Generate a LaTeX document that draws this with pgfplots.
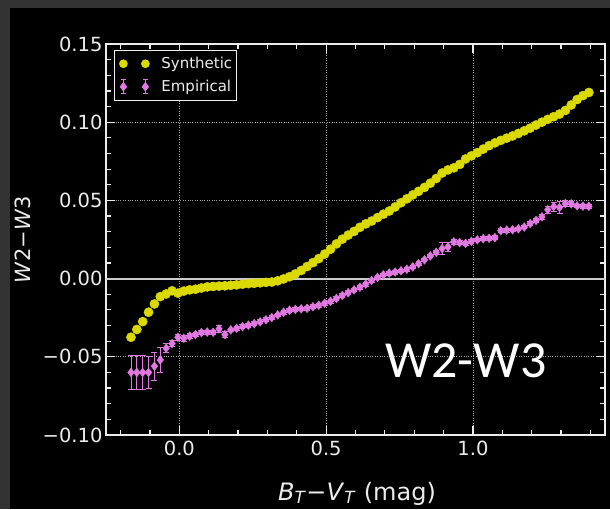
\documentclass[border=0pt]{standalone}
\usepackage{pgfplots}
\pgfplotsset{compat=1.18}
\usepackage{pgfplotstable}
\usepackage{fontspec}
\setmainfont{DejaVu Sans}
\newfontfamily\carlito{Carlito}
\definecolor{synth}{RGB}{218,218,0}
\definecolor{emp}{RGB}{226,120,226}
\definecolor{fg}{RGB}{236,236,236}

\pgfplotstableread{
x y
-0.165 -0.0375
-0.145 -0.0325
-0.125 -0.0275
-0.105 -0.0215
-0.085 -0.0162
-0.065 -0.0115
-0.045 -0.0098
-0.025 -0.0078
-0.005 -0.0093
0.015 -0.0080
0.035 -0.0072
0.055 -0.0068
0.075 -0.0060
0.095 -0.0053
0.115 -0.0050
0.135 -0.0048
0.155 -0.0046
0.175 -0.0043
0.195 -0.0040
0.215 -0.0036
0.235 -0.0032
0.255 -0.0030
0.275 -0.0027
0.295 -0.0024
0.315 -0.0022
0.335 -0.0014
0.355 -0.0002
0.375 0.0012
0.395 0.0030
0.415 0.0052
0.435 0.0077
0.455 0.0102
0.475 0.0128
0.495 0.0157
0.515 0.0188
0.535 0.0222
0.555 0.0252
0.575 0.0278
0.595 0.0302
0.615 0.0328
0.635 0.0350
0.655 0.0368
0.675 0.0390
0.695 0.0412
0.715 0.0432
0.735 0.0458
0.755 0.0485
0.775 0.0510
0.795 0.0535
0.815 0.0558
0.835 0.0583
0.855 0.0610
0.875 0.0640
0.895 0.0675
0.915 0.0695
0.935 0.0708
0.955 0.0730
0.975 0.0765
0.995 0.0785
1.015 0.0805
1.035 0.0828
1.055 0.0850
1.075 0.0868
1.095 0.0884
1.115 0.0898
1.135 0.0912
1.155 0.0928
1.175 0.0945
1.195 0.0962
1.215 0.0982
1.235 0.1000
1.255 0.1018
1.275 0.1035
1.295 0.1052
1.315 0.1075
1.335 0.1110
1.355 0.1145
1.375 0.1170
1.395 0.1190
}\synthetic

\pgfplotstableread{
x y e
-0.165 -0.0600 0.0110
-0.145 -0.0600 0.0110
-0.125 -0.0600 0.0110
-0.105 -0.0600 0.0100
-0.085 -0.0560 0.0090
-0.065 -0.0520 0.0080
-0.045 -0.0445 0.0030
-0.025 -0.0415 0.0020
-0.005 -0.0375 0.0020
0.015 -0.0382 0.0020
0.035 -0.0368 0.0015
0.055 -0.0358 0.0012
0.075 -0.0345 0.0012
0.095 -0.0342 0.0012
0.115 -0.0343 0.0012
0.135 -0.0322 0.0020
0.155 -0.0358 0.0020
0.175 -0.0328 0.0012
0.195 -0.0318 0.0012
0.215 -0.0307 0.0012
0.235 -0.0298 0.0012
0.255 -0.0288 0.0012
0.275 -0.0276 0.0012
0.295 -0.0263 0.0012
0.315 -0.0249 0.0012
0.335 -0.0232 0.0012
0.355 -0.0215 0.0012
0.375 -0.0202 0.0012
0.395 -0.0197 0.0012
0.415 -0.0193 0.0012
0.435 -0.0190 0.0012
0.455 -0.0180 0.0012
0.475 -0.0170 0.0012
0.495 -0.0158 0.0012
0.515 -0.0145 0.0012
0.535 -0.0127 0.0012
0.555 -0.0108 0.0012
0.575 -0.0090 0.0012
0.595 -0.0072 0.0012
0.615 -0.0055 0.0012
0.635 -0.0035 0.0012
0.655 -0.0012 0.0012
0.675 0.0008 0.0012
0.695 0.0024 0.0012
0.715 0.0035 0.0012
0.735 0.0042 0.0012
0.755 0.0050 0.0012
0.775 0.0060 0.0012
0.795 0.0075 0.0012
0.815 0.0095 0.0012
0.835 0.0120 0.0012
0.855 0.0145 0.0012
0.875 0.0168 0.0015
0.895 0.0192 0.0040
0.915 0.0203 0.0030
0.935 0.0235 0.0015
0.955 0.0230 0.0012
0.975 0.0226 0.0012
0.995 0.0238 0.0012
1.015 0.0248 0.0012
1.035 0.0255 0.0012
1.055 0.0258 0.0012
1.075 0.0262 0.0012
1.095 0.0306 0.0012
1.115 0.0310 0.0012
1.135 0.0312 0.0012
1.155 0.0318 0.0012
1.175 0.0330 0.0012
1.195 0.0352 0.0012
1.215 0.0372 0.0012
1.235 0.0395 0.0015
1.255 0.0440 0.0020
1.275 0.0460 0.0030
1.295 0.0455 0.0040
1.315 0.0480 0.0020
1.335 0.0478 0.0015
1.355 0.0465 0.0012
1.375 0.0463 0.0012
1.395 0.0462 0.0012
}\empirical

\begin{document}
\begin{tikzpicture}[x=1pt,y=1pt]
\fill[black!80] (0,0) rectangle (610,509);
\fill[black] (10,0) rectangle (610,501);
\begin{axis}[
  at={(106pt,74pt)}, anchor=south west,
  scale only axis, width=499pt, height=391pt,
  xmin=-0.25, xmax=1.45, ymin=-0.10, ymax=0.15,
  axis line style={fg, line width=1.6pt},
  xtick={0,0.5,1}, xticklabels={0.0,0.5,1.0},
  ytick={-0.1,-0.05,0,0.05,0.1,0.15},
  yticklabels={−0.10,−0.05,0.00,0.05,0.10,0.15},
  minor xtick={-0.2,-0.1,0.1,0.2,0.3,0.4,0.6,0.7,0.8,0.9,1.1,1.2,1.3,1.4},
  minor ytick={-0.09,-0.08,-0.07,-0.06,-0.04,-0.03,-0.02,-0.01,0.01,0.02,0.03,0.04,0.06,0.07,0.08,0.09,0.11,0.12,0.13,0.14},
  tick align=inside, major tick length=9pt, minor tick length=5pt,
  every tick/.style={fg, line width=1.2pt},
  grid=major, major grid style={dotted, gray!65, line width=0.7pt},
  ticklabel style={font=\fontsize{19.5}{19.5}\selectfont, text=fg},
  xticklabel style={yshift=-2pt},
  xlabel={\textit{B}\textsubscript{\textit{T}}−\textit{V}\textsubscript{\textit{T}} (mag)},
  ylabel={\textit{W}2−\textit{W}3},
  xlabel style={font=\fontsize{24}{24}\selectfont, text=fg, at={(axis description cs:0.503,-0.150)}, anchor=center},
  ylabel style={font=\fontsize{21}{21}\selectfont, text=fg, at={(axis description cs:-0.166,0.5)}, anchor=center},
  legend style={at={(axis description cs:0.016,0.985)}, anchor=north west,
    fill=black, draw=fg!80, line width=0.8pt, text=fg,
    font=\fontsize{15}{15}\selectfont, row sep=0pt, inner sep=2pt},
  legend cell align=left,
]
\addplot[forget plot, gray!40, line width=1.8pt] coordinates {(-0.25,0) (1.45,0)};
\addplot[only marks, mark=*, mark size=4.6pt, color=synth, mark options={draw=synth, fill=synth},
  legend image code/.code={\fill[synth] (0pt,0pt) circle (3.9pt) (22pt,0pt) circle (3.9pt);
    \path[draw=none, fill=none] (-7pt,-11.5pt) rectangle (36pt,11.5pt);}]
  table[x=x, y=y] {\synthetic};
\addlegendentry{Synthetic}
\addplot[only marks, mark=diamond*, mark size=4.4pt, color=emp, mark options={draw=emp, fill=emp},
  legend image code/.code={
    \draw[emp, line width=0.8pt] (0pt,-7pt) -- (0pt,7pt) (-2.5pt,-7pt) -- (2.5pt,-7pt) (-2.5pt,7pt) -- (2.5pt,7pt);
    \draw[emp, line width=0.8pt] (22pt,-7pt) -- (22pt,7pt) (19.5pt,-7pt) -- (24.5pt,-7pt) (19.5pt,7pt) -- (24.5pt,7pt);
    \fill[emp] (0pt,4.2pt) -- (3.2pt,0pt) -- (0pt,-4.2pt) -- (-3.2pt,0pt) -- cycle;
    \fill[emp] (22pt,4.2pt) -- (25.2pt,0pt) -- (22pt,-4.2pt) -- (18.8pt,0pt) -- cycle;
    \path[draw=none, fill=none] (-7pt,-11.5pt) rectangle (36pt,11.5pt);},
  error bars/.cd, y dir=both, y explicit,
  error bar style={emp, line width=0.8pt},
  error mark options={emp, mark size=3pt, line width=0.8pt, rotate=90}]
  table[x=x, y=y, y error=e] {\empirical};
\addlegendentry{Empirical}
\end{axis}
\node[anchor=base west, text=white, font=\carlito\fontsize{52}{52}\selectfont, inner sep=0pt] at (385,132) {W2-W3};
\pgfresetboundingbox
\path[use as bounding box] (0,0) rectangle (610,509);
\end{tikzpicture}
\end{document}
